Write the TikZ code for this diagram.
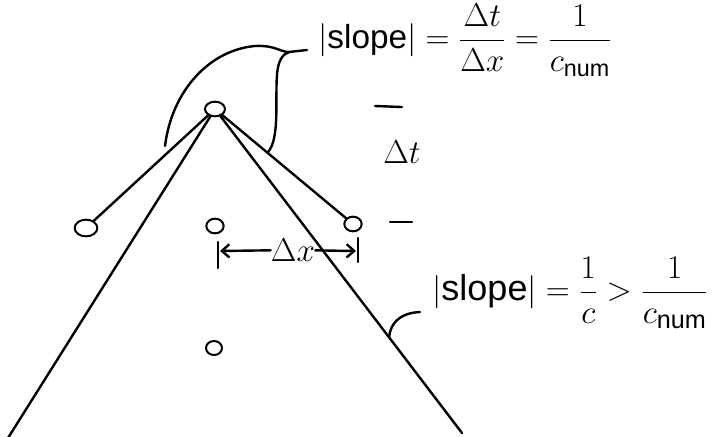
\documentclass[tikz,border=0pt]{standalone}
\usepackage{amsmath}
\usepackage{fontspec}
\setmainfont{Liberation Sans}
\usetikzlibrary{arrows.meta,calc,shapes.geometric}

\begin{document}
\begin{tikzpicture}[
  x=0.75pt, y=-0.75pt,
  pen/.style={line width=1.8pt, line cap=round, line join=round},
  meshpt/.style={draw, ellipse, line width=1.5pt, inner sep=0pt,
    minimum width=13pt, minimum height=11pt},
  hand/.style={font=\fontsize{25}{27}\selectfont, inner sep=0pt},
  bighand/.style={font=\fontsize{28}{30}\selectfont, inner sep=0pt},
  span/.style={pen, -{Straight Barb[length=2mm,width=3.5mm]}}
]
\useasboundingbox (0,0) rectangle (727,436);
% grid points
\node[meshpt, minimum width=15pt] (apex) at (215,109) {};
\node[meshpt, minimum width=17pt, minimum height=12.5pt] (nodeL) at (86,228) {};
\node[meshpt] (nodeM) at (215,226) {};
\node[meshpt] (nodeR) at (353,224) {};
\node[meshpt, minimum width=12pt, minimum height=10.5pt] (nodeB) at (214,348) {};
\coordinate (bL) at (8,438);
\coordinate (bR) at (462,433);
% numerical stencil and true characteristics
\draw[pen] (apex) -- (nodeL);
\draw[pen] (apex) -- (nodeR);
\draw[pen] (apex) -- (bL);
\draw[pen] (apex) -- (bR);
% time step marks
\draw[pen] (375,106) -- (402,107);
\node[bighand] (dt) at (402,152) {$\Delta t$};
\draw[pen] (390,222) -- (412,222);
% space step
\node[bighand] (dx) at (293,250) {$\Delta x$};
\coordinate (dxL) at (220,251);
\coordinate (dxR) at (356,251);
\draw[span] (dx) -- (dxL);
\draw[span] (dx) -- (dxR);
\draw[pen] (218,242) -- (218,268);
\draw[pen] (358,238) -- (358,262);
% labels
\node[hand, anchor=west] (slopeNum) at (318,40)
  {$|\mathrm{slope}| = \dfrac{\Delta t}{\Delta x} = \dfrac{1}{c_{\mathrm{num}}}$};
\node[hand, anchor=west, font=\fontsize{27}{29}\selectfont] (slopeTrue) at (432,293)
  {$|\mathrm{slope}| = \dfrac{1}{c} > \dfrac{1}{c_{\mathrm{num}}}$};
% leaders
\coordinate (tipL) at (165,146);
\coordinate (tipR) at ($(apex)!0.38!(nodeR)$);
\coordinate (tipB) at ($(apex)!0.705!(bR)$);
\coordinate (knot) at (289,52);
\draw[pen] (tipL) .. controls (172,90) and (210,50) .. (255,46)
  .. controls (275,45) and (280,52) .. (knot) -- (307,50);
\draw[pen] (tipR) .. controls (280,140) and (275,100) .. (277,75)
  .. controls (278,60) and (283,54) .. (knot);
\draw[pen] (tipB) .. controls (390,325) and (398,313) .. (420,312);
\end{tikzpicture}
\end{document}
